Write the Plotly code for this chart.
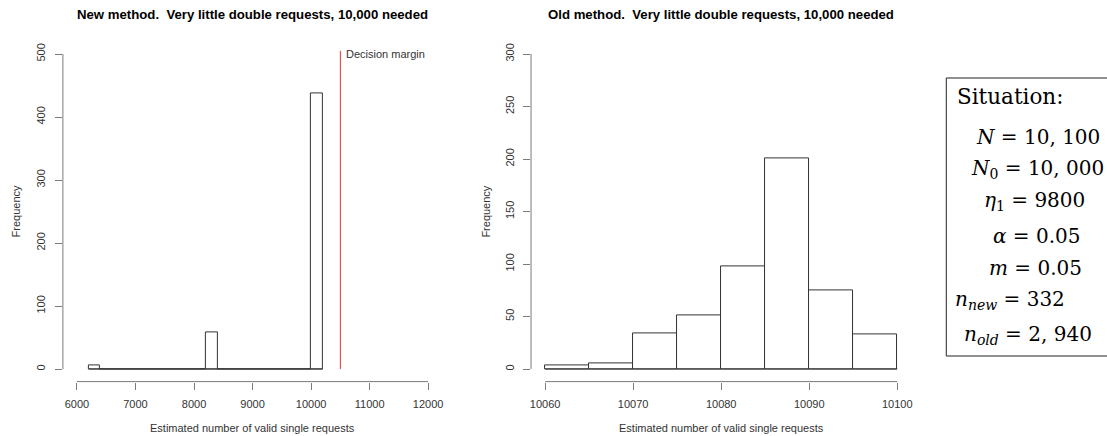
import plotly.graph_objects as go

# ---- data ----
new_edges = list(range(6200, 10201, 200))
new_counts = [5, 0, 0, 0, 0, 0, 0, 0, 0, 0, 58, 0, 0, 0, 0, 0, 0, 0, 0, 437]
old_edges = [10060, 10065, 10070, 10075, 10080, 10085, 10090, 10095, 10100]
old_counts = [3, 5, 34, 51, 98, 201, 75, 33]
new_xticks = [6000, 7000, 8000, 9000, 10000, 11000, 12000]
new_yticks = [0, 100, 200, 300, 400, 500]
old_xticks = [10060, 10070, 10080, 10090, 10100]
old_yticks = [0, 50, 100, 150, 200, 250, 300]
decision_margin = 10500
decision_top = 505

title_new = "New method.  Very little double requests, 10,000 needed"
title_old = "Old method.  Very little double requests, 10,000 needed"
xlabel = "Estimated number of valid single requests"
ylabel = "Frequency"
situation_lines = [
    "<i>N</i> = 10, 100",
    "<i>N</i><sub>0</sub> = 10, 000",
    "<i>η</i><sub>1</sub> = 9800",
    "<i>α</i> = 0.05",
    "<i>m</i> = 0.05",
    "<i>n</i><sub><i>new</i></sub> = 332",
    "<i>n</i><sub><i>old</i></sub> = 2, 940",
]

W, H = 1107, 436
def px(x): return x / W
def py(y): return 1 - y / H

def mids(edges):
    return [(a + b) / 2 for a, b in zip(edges[:-1], edges[1:])]
def widths(edges):
    return [b - a for a, b in zip(edges[:-1], edges[1:])]

EDGE = "#333333"
AXC = "#7a7a7a"
TXT = "#333333"
SANS = "Liberation Sans, Arial, sans-serif"
SERIF = "DejaVu Serif, serif"

fig = go.Figure()

def add_hist(edges, counts, xa, ya):
    fig.add_trace(go.Scatter(x=[edges[0], edges[-1]], y=[0, 0], mode="lines",
                             line=dict(color=EDGE, width=1), xaxis=xa, yaxis=ya,
                             showlegend=False, hoverinfo="skip"))
    fig.add_trace(go.Bar(x=mids(edges), y=counts, width=widths(edges),
                         marker=dict(color="white", line=dict(color=EDGE, width=1)),
                         xaxis=xa, yaxis=ya, showlegend=False))

add_hist(new_edges, new_counts, "x", "y")
add_hist(old_edges, old_counts, "x2", "y2")

fig.add_trace(go.Scatter(x=[decision_margin, decision_margin], y=[0, decision_top],
                         mode="lines", line=dict(color="#e8302f", width=1),
                         xaxis="x", yaxis="y", showlegend=False))

ydom = [py(381.6), py(41.4)]
def pad(ticks):
    r = ticks[-1] - ticks[0]
    return [ticks[0] - 0.04 * r, ticks[-1] + 0.04 * r]

axis_common = dict(showline=False, showgrid=False, zeroline=False, ticks="outside",
                   ticklen=7, tickcolor=AXC, tickwidth=1,
                   tickfont=dict(family=SANS, size=11, color=TXT))

fig.update_layout(
    width=W, height=H, margin=dict(l=0, r=0, t=0, b=0),
    paper_bgcolor="white", plot_bgcolor="white", bargap=0,
    xaxis=dict(domain=[px(62), px(442)], range=pad(new_xticks), tickvals=new_xticks,
               ticktext=[str(v) for v in new_xticks],
               anchor="y", ticklabelstandoff=5, **axis_common),
    yaxis=dict(domain=ydom, range=pad(new_yticks), tickvals=new_yticks,
               ticktext=[str(v) for v in new_yticks], tickangle=-90,
               anchor="x", ticklabelstandoff=5, **axis_common),
    xaxis2=dict(domain=[px(531), px(912)], range=pad(old_xticks), tickvals=old_xticks,
                ticktext=[str(v) for v in old_xticks],
                anchor="y2", ticklabelstandoff=5, **axis_common),
    yaxis2=dict(domain=ydom, range=pad(old_yticks), tickvals=old_yticks,
                ticktext=[str(v) for v in old_yticks], tickangle=-90,
                anchor="x2", ticklabelstandoff=5, **axis_common),
)

shapes = []
for xa, ya, xt, yt in [("x", "y", new_xticks, new_yticks), ("x2", "y2", old_xticks, old_yticks)]:
    shapes.append(dict(type="line", xref=xa, yref=ya + " domain", x0=xt[0], x1=xt[-1],
                       y0=0, y1=0, line=dict(color=AXC, width=1)))
    shapes.append(dict(type="line", xref=xa + " domain", yref=ya, x0=0, x1=0,
                       y0=yt[0], y1=yt[-1], line=dict(color=AXC, width=1)))
shapes.append(dict(type="rect", xref="paper", yref="paper", x0=px(947), x1=px(1125),
                   y0=py(356), y1=py(78), line=dict(color="#222222", width=1)))
fig.update_layout(shapes=shapes)

ann = []
for cx, t in [((62 + 442) / 2, title_new), ((531 + 912) / 2, title_old)]:
    ann.append(dict(x=px(cx), y=py(15), xref="paper", yref="paper", text="<b>" + t + "</b>",
                    xanchor="center", yanchor="middle",
                    showarrow=False, font=dict(family=SANS, size=13.2, color="black")))
    ann.append(dict(x=px(cx), y=py(428), xref="paper", yref="paper", text=xlabel,
                    xanchor="center", yanchor="middle",
                    showarrow=False, font=dict(family=SANS, size=11, color=TXT)))
for lx in [15, 485]:
    ann.append(dict(x=px(lx), y=(ydom[0] + ydom[1]) / 2, xref="paper", yref="paper",
                    text=ylabel, textangle=-90, showarrow=False,
                    xanchor="center", yanchor="middle",
                    font=dict(family=SANS, size=11, color=TXT)))
ann.append(dict(x=decision_margin, y=new_yticks[-1], xref="x", yref="y", text="Decision margin",
                xanchor="left", yanchor="middle", xshift=4, showarrow=False,
                font=dict(family=SANS, size=11, color=TXT)))
ann.append(dict(x=px(956), y=py(97), xref="paper", yref="paper", text="Situation:",
                xanchor="left", yanchor="middle", showarrow=False,
                font=dict(family=SERIF, size=21.5, color="black")))
centers = [(1039, 137), (1038, 169), (1035, 201), (1038, 236), (1036, 268), (1011, 300), (1029, 335)]
for (cx, cy), t in zip(centers, situation_lines):
    ann.append(dict(x=px(cx), y=py(cy), xref="paper", yref="paper", text=t,
                    xanchor="center", yanchor="middle",
                    showarrow=False, font=dict(family=SERIF, size=20, color="black")))
fig.update_layout(annotations=ann)

fig.write_html("out.html", config={"displayModeBar": False},
               post_script="document.body.style.margin='0';")
